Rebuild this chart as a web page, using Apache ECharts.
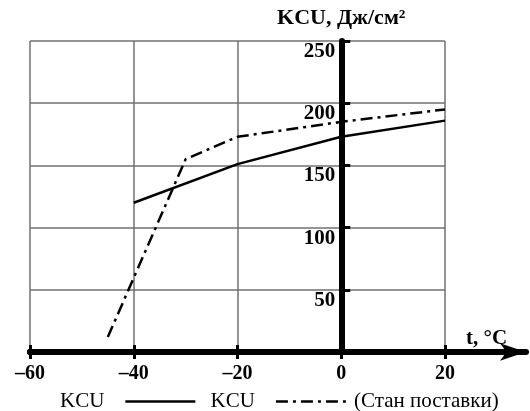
<!DOCTYPE html>
<html><head><meta charset="utf-8">
<script src="https://cdn.jsdelivr.net/npm/echarts@6/dist/echarts.min.js"></script>
<style>html,body{margin:0;padding:0;background:#fff}#c{width:530px;height:411px}</style>
</head><body><div id="c"></div>
<script>
// tick values
const xTicks = [-60, -40, -20, 0, 20];
const yTicks = [0, 50, 100, 150, 200, 250];
// series 1: KCU (solid)
const solidT = [-40, -20, 0, 20];
const solidKCU = [120, 151, 173, 186];
// series 2: KCU (Стан поставки), dash-dot
const dashT = [-45, -30, -20, 0, 20];
const dashKCU = [12, 155, 173, 185, 195];
const legendLabels = ['KCU', 'KCU'];
const yName = 'KCU, Дж/см²';
const xName = 't, °C';
const stateNote = '(Стан поставки)';

const FONT = "'Liberation Serif','Times New Roman',serif";
const xStep = xTicks[1] - xTicks[0];
const yStep = yTicks[1] - yTicks[0];
const zip = (a, b) => a.map((v, i) => [v, b[i]]);
const seriesIds = ['s1', 's2'];

// grid geometry (layout only)
const GL = 30, GR = 85, W = 530;
const gridW = W - GL - GR;
const xMin = xTicks[0], xMax = xTicks[xTicks.length - 1];
const yAxisOffset = -gridW * (0 - xMin) / (xMax - xMin); // place y axis at t = 0

const chart = echarts.init(document.getElementById('c'), null, {renderer: 'canvas'});
chart.setOption({
  backgroundColor: '#fff',
  animation: false,
  title: [
    {text: xName, left: 461, top: 323, textStyle: {fontFamily: FONT, fontWeight: 'bold', fontSize: 21, color: '#000'}},
    {text: stateNote, left: 349, top: 386, textStyle: {fontFamily: FONT, fontWeight: 'normal', fontSize: 21, color: '#000'}}
  ],
  legend: {
    left: 55, top: 386, align: 'right', itemWidth: 70, itemHeight: 14, itemGap: 14,
    data: seriesIds,
    formatter: n => legendLabels[seriesIds.indexOf(n)],
    textStyle: {fontFamily: FONT, fontSize: 21, color: '#000', padding: [0, 16, 0, 0]},
    itemStyle: {opacity: 0},
    lineStyle: {width: 2.5},
    selectedMode: false
  },
  grid: [
    {left: GL, right: GR, top: 41, bottom: 59, outerBoundsMode: 'none', containLabel: false},
    {left: GL, right: 4, top: 41, bottom: 59, outerBoundsMode: 'none', containLabel: false}
  ],
  xAxis: [
    {
      type: 'value', gridIndex: 0, min: xMin, max: xMax, interval: xStep,
      position: 'bottom',
      axisLine: {show: true, onZero: false, lineStyle: {color: '#000', width: 6}},
      axisTick: {show: true, length: 7, lineStyle: {color: '#000', width: 3}},
      axisLabel: {
        margin: 12, color: '#000', fontFamily: FONT, fontWeight: 'bold', fontSize: 20,
        formatter: v => (v < 0 ? '–' + Math.abs(v) : String(v)),
        showMinLabel: true, showMaxLabel: true
      },
      splitLine: {show: true, lineStyle: {color: '#707070', width: 1.5}}
    },
    {
      type: 'value', gridIndex: 0, min: xMin, max: xMax, interval: xStep,
      position: 'top',
      axisLine: {show: false, onZero: true},
      axisTick: {show: true, length: 7, lineStyle: {color: '#000', width: 3}},
      axisLabel: {show: false},
      splitLine: {show: false}
    },
    {
      type: 'value', gridIndex: 1, min: xMin, max: 35,
      position: 'bottom',
      axisLine: {show: true, onZero: false, symbol: ['none', 'arrow'], symbolSize: [13, 26], lineStyle: {color: '#000', width: 6}},
      axisTick: {show: false}, axisLabel: {show: false}, splitLine: {show: false}
    }
  ],
  yAxis: [
    {
      type: 'value', gridIndex: 0, min: yTicks[0], max: yTicks[yTicks.length - 1], interval: yStep,
      position: 'left', offset: yAxisOffset,
      name: yName, nameLocation: 'end', nameGap: 12,
      nameTextStyle: {fontFamily: FONT, fontWeight: 'bold', fontSize: 22, color: '#000', align: 'center'},
      axisLine: {show: true, onZero: false, lineStyle: {color: '#000', width: 6}},
      axisTick: {show: true, inside: true, length: 9, lineStyle: {color: '#000', width: 3}},
      axisLabel: {
        margin: 6, color: '#000', fontFamily: FONT, fontWeight: 'bold', fontSize: 21,
        verticalAlign: 'top', formatter: v => (v === 0 ? '' : String(v))
      },
      splitLine: {show: true, lineStyle: {color: '#707070', width: 1.5}}
    },
    {type: 'value', gridIndex: 1, min: yTicks[0], max: yTicks[yTicks.length - 1], show: false}
  ],
  series: [
    {
      id: seriesIds[0], name: seriesIds[0], type: 'line', xAxisIndex: 0, yAxisIndex: 0,
      data: zip(solidT, solidKCU), showSymbol: false, symbol: 'none',
      lineStyle: {color: '#000', width: 2.5, type: 'solid'}, itemStyle: {color: '#000'}, z: 5
    },
    {
      id: seriesIds[1], name: seriesIds[1], type: 'line', xAxisIndex: 0, yAxisIndex: 0,
      data: zip(dashT, dashKCU), showSymbol: false, symbol: 'none',
      lineStyle: {color: '#000', width: 2.5, type: [12, 5, 3, 5]}, itemStyle: {color: '#000'}, z: 5
    }
  ]
});
</script></body></html>
